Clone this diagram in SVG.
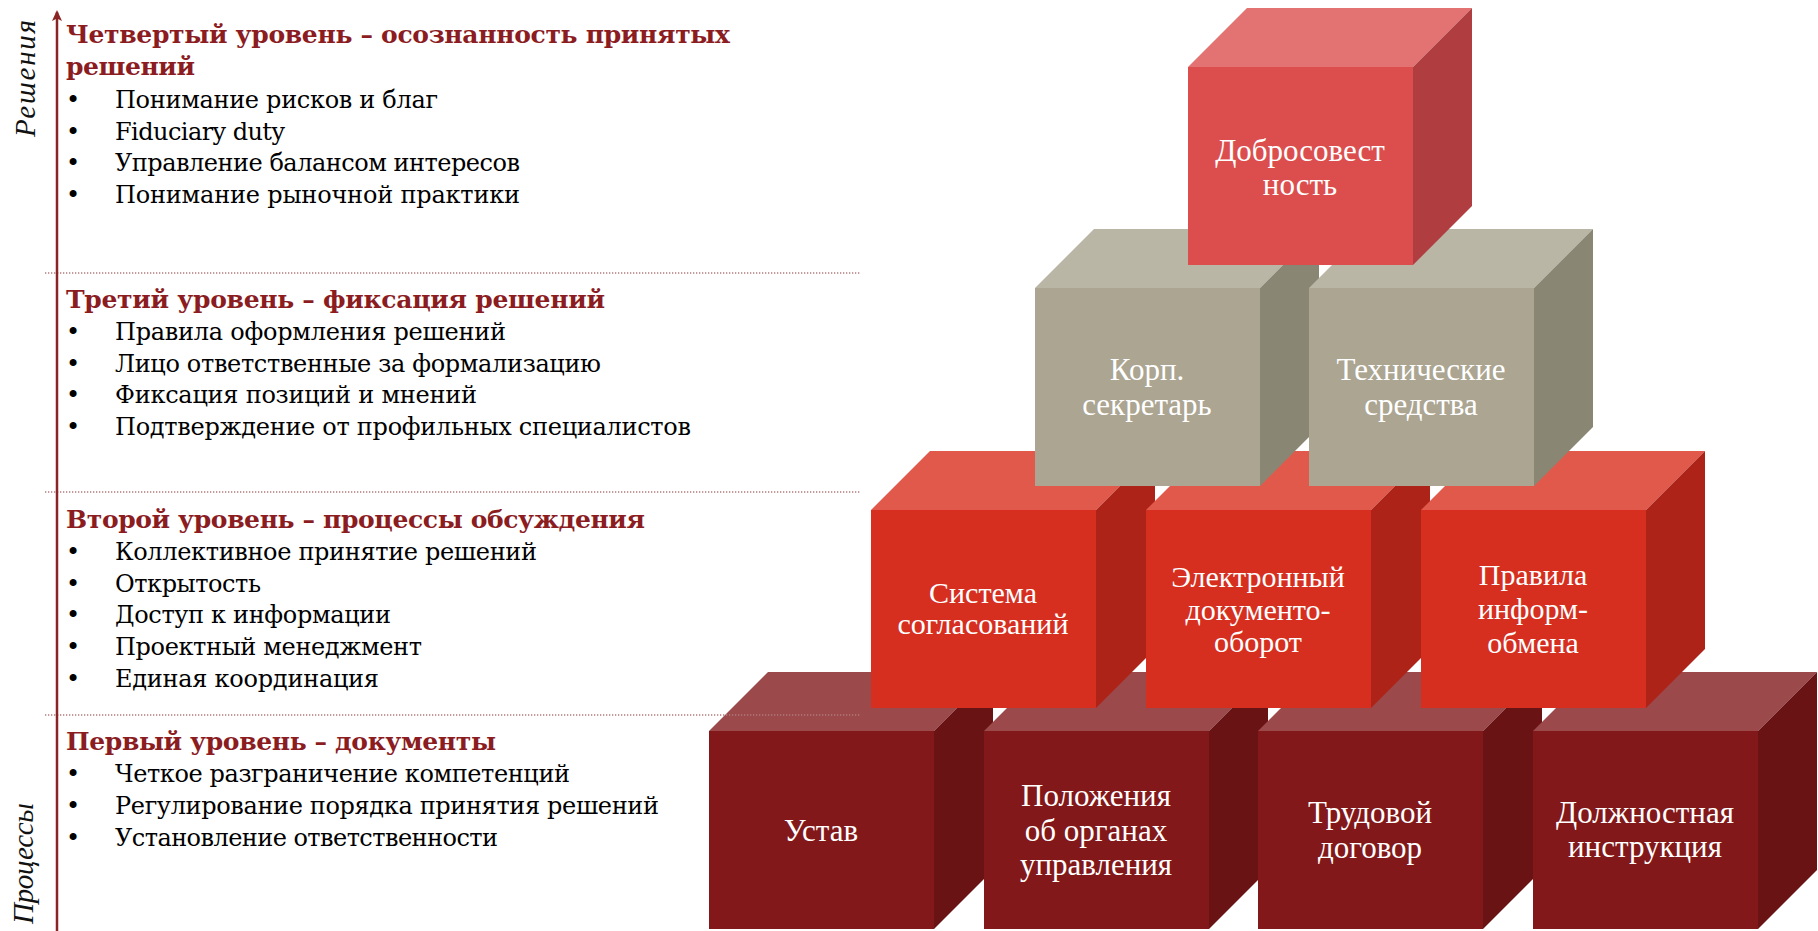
<svg xmlns="http://www.w3.org/2000/svg" width="1818" height="931" viewBox="0 0 1818 931">
<defs>
<style>
.h{font-family:"DejaVu Serif","Liberation Serif",serif;font-weight:bold;font-size:25px;fill:#8B1C1F}
.i{font-family:"DejaVu Serif","Liberation Serif",serif;font-size:24px;fill:#000}
.v{font-family:"Liberation Serif","DejaVu Serif",serif;font-style:italic;font-size:29px;fill:#111}
.t{font-family:"Liberation Serif","DejaVu Serif",serif;font-size:31px;fill:#fff;text-anchor:middle}
.dot{stroke:#B27A7A;stroke-width:1.3;stroke-dasharray:1.3 1.7;fill:none}
.b1f{fill:#821819}.b1t{fill:#9B494B}.b1r{fill:#6A1315}
.b2f{fill:#D62E1F}.b2t{fill:#E0594B}.b2r{fill:#AE2318}
.b3f{fill:#ABA592}.b3t{fill:#B9B6A6}.b3r{fill:#8A8674}
.b4f{fill:#DC4E4E}.b4t{fill:#E37373}.b4r{fill:#B03D3F}
</style>
<symbol id="c1" overflow="visible"><polygon class="b1t" points="0,0 59,-59 284,-59 225,0"/><polygon class="b1r" points="225,0 284,-59 284,139 225,198"/><rect class="b1f" x="0" y="0" width="225" height="198"/></symbol>
<symbol id="c2" overflow="visible"><polygon class="b2t" points="0,0 59,-59 284,-59 225,0"/><polygon class="b2r" points="225,0 284,-59 284,139 225,198"/><rect class="b2f" x="0" y="0" width="225" height="198"/></symbol>
<symbol id="c3" overflow="visible"><polygon class="b3t" points="0,0 59,-59 284,-59 225,0"/><polygon class="b3r" points="225,0 284,-59 284,139 225,198"/><rect class="b3f" x="0" y="0" width="225" height="198"/></symbol>
<symbol id="c4" overflow="visible"><polygon class="b4t" points="0,0 59,-59 284,-59 225,0"/><polygon class="b4r" points="225,0 284,-59 284,139 225,198"/><rect class="b4f" x="0" y="0" width="225" height="198"/></symbol>
<marker id="ah" viewBox="0 0 11 10" refX="9" refY="5" markerWidth="11" markerHeight="10" markerUnits="userSpaceOnUse" orient="auto">
<polygon points="0,0 11,5 0,10 2.5,5" fill="#8B2525"/>
</marker>
</defs>
<rect width="1818" height="931" fill="#fff"/>

<g id="row1">
<g id="node-ustav"><use href="#c1" x="709" y="731"/><text class="t" x="821" y="841">Устав</text></g>
<g id="node-polozheniya"><use href="#c1" x="984" y="731"/><text class="t"><tspan x="1096" y="806">Положения</tspan><tspan x="1096" y="841">об органах</tspan><tspan x="1096" y="875">управления</tspan></text></g>
<g id="node-trudovoy"><use href="#c1" x="1258" y="731"/><text class="t"><tspan x="1370" y="823">Трудовой</tspan><tspan x="1370" y="858">договор</tspan></text></g>
<g id="node-dolzhnostnaya"><use href="#c1" x="1533" y="731"/><text class="t"><tspan x="1645" y="823">Должностная</tspan><tspan x="1645" y="857">инструкция</tspan></text></g>
</g>

<g id="row2">
<g id="node-sistema"><use href="#c2" x="871" y="510"/><text class="t" style="font-size:30px"><tspan x="983" y="603">Система</tspan><tspan x="983" y="634">согласований</tspan></text></g>
<g id="node-edo"><use href="#c2" x="1146" y="510"/><text class="t" style="font-size:30px"><tspan x="1258" y="587">Электронный</tspan><tspan x="1258" y="620">документо-</tspan><tspan x="1258" y="652">оборот</tspan></text></g>
<g id="node-pravila"><use href="#c2" x="1421" y="510"/><text class="t" style="font-size:30px"><tspan x="1533" y="585">Правила</tspan><tspan x="1533" y="619">информ-</tspan><tspan x="1533" y="653">обмена</tspan></text></g>
</g>

<g id="row3">
<g id="node-korp"><use href="#c3" x="1035" y="288"/><text class="t"><tspan x="1147" y="380">Корп.</tspan><tspan x="1147" y="415">секретарь</tspan></text></g>
<g id="node-tech"><use href="#c3" x="1309" y="288"/><text class="t"><tspan x="1421" y="380">Технические</tspan><tspan x="1421" y="415">средства</tspan></text></g>
</g>

<g id="row4">
<g id="node-dobro"><use href="#c4" x="1188" y="67"/><text class="t"><tspan x="1300" y="161">Добросовест</tspan><tspan x="1300" y="195">ность</tspan></text></g>
</g>

<g id="separators">
<line class="dot" x1="45" y1="273" x2="860" y2="273"/>
<line class="dot" x1="45" y1="492" x2="860" y2="492"/>
<line class="dot" x1="45" y1="715" x2="860" y2="715"/>
</g>

<g id="connectors">
<line x1="57" y1="931" x2="57" y2="12" stroke="#8B2525" stroke-width="2.5" marker-end="url(#ah)"/>
</g>

<g id="axis-labels">
<text class="v" transform="translate(35,137) rotate(-90)" textLength="117">Решения</text>
<text class="v" transform="translate(33,924) rotate(-90)" textLength="121">Процессы</text>
</g>

<g id="level4">
<text class="h" x="66" y="43" textLength="664">Четвертый уровень – осознанность принятых</text>
<text class="h" x="66" y="75" textLength="129">решений</text>
<g class="i">
<text x="66" y="108">•</text><text x="115" y="108" textLength="323">Понимание рисков и благ</text>
<text x="66" y="140">•</text><text x="115" y="140" textLength="170">Fiduciary duty</text>
<text x="66" y="171">•</text><text x="115" y="171" textLength="405">Управление балансом интересов</text>
<text x="66" y="203">•</text><text x="115" y="203" textLength="405">Понимание рыночной практики</text>
</g>
</g>

<g id="level3">
<text class="h" x="66" y="308" textLength="539">Третий уровень – фиксация решений</text>
<g class="i">
<text x="66" y="340">•</text><text x="115" y="340" textLength="391">Правила оформления решений</text>
<text x="66" y="372">•</text><text x="115" y="372" textLength="486">Лицо ответственные за формализацию</text>
<text x="66" y="403">•</text><text x="115" y="403" textLength="362">Фиксация позиций и мнений</text>
<text x="66" y="435">•</text><text x="115" y="435" textLength="576">Подтверждение от профильных специалистов</text>
</g>
</g>

<g id="level2">
<text class="h" x="66" y="528" textLength="579">Второй уровень – процессы обсуждения</text>
<g class="i">
<text x="66" y="560">•</text><text x="115" y="560" textLength="422">Коллективное принятие решений</text>
<text x="66" y="592">•</text><text x="115" y="592" textLength="146">Открытость</text>
<text x="66" y="623">•</text><text x="115" y="623" textLength="276">Доступ к информации</text>
<text x="66" y="655">•</text><text x="115" y="655" textLength="307">Проектный менеджмент</text>
<text x="66" y="687">•</text><text x="115" y="687" textLength="264">Единая координация</text>
</g>
</g>

<g id="level1">
<text class="h" x="66" y="750" textLength="430">Первый уровень – документы</text>
<g class="i">
<text x="66" y="782">•</text><text x="115" y="782" textLength="455">Четкое разграничение компетенций</text>
<text x="66" y="814">•</text><text x="115" y="814" textLength="544">Регулирование порядка принятия решений</text>
<text x="66" y="846">•</text><text x="115" y="846" textLength="383">Установление ответственности</text>
</g>
</g>
</svg>
